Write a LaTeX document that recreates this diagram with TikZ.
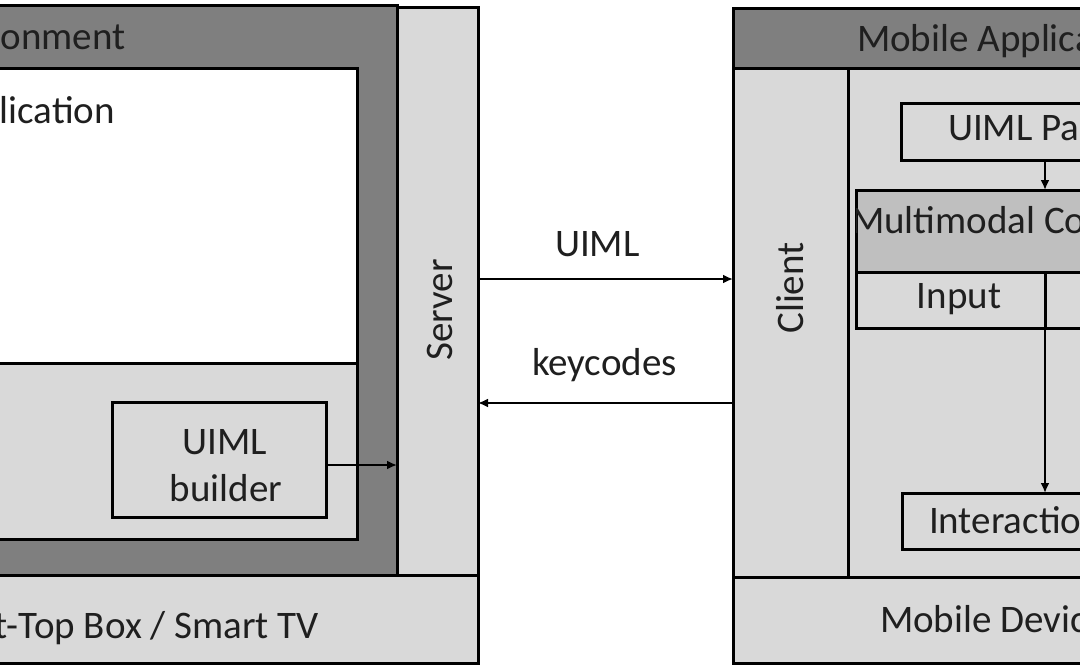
\documentclass[tikz,border=0pt]{standalone}
\usepackage{fontspec}
\setmainfont{Carlito}
\usetikzlibrary{arrows.meta}
\definecolor{dkgray}{HTML}{7F7F7F}
\definecolor{ltgray}{HTML}{D9D9D9}
\definecolor{mdgray}{HTML}{BFBFBF}
\begin{document}
\begin{tikzpicture}[x=1pt,y=-1pt,
  box/.style={draw=black, line width=3pt, rectangle, inner sep=0pt, outer sep=0pt, anchor=north west},
  lbl/.style={font=\fontsize{39}{47}\selectfont, inner sep=0pt, outer sep=0pt, text=black!88},
  arr/.style={line width=2.2pt, -{Latex[length=10pt,width=9pt]}}]
\useasboundingbox (0,0) rectangle (1080,670);
\fill[white] (0,0) rectangle (1080,670);
\clip (0,0) rectangle (1080,670);
% ---------------- left: set-top box ----------------
\node[box, fill=dkgray, minimum width=1000pt, minimum height=570pt] (env) at (-603,5) {};
\node[box, fill=white, minimum width=907pt, minimum height=295pt] (apptop) at (-550,68) {};
\node[box, fill=ltgray, minimum width=907pt, minimum height=176pt] (appbot) at (-550,363) {};
\node[box, fill=ltgray, minimum width=214pt, minimum height=115pt] (builder) at (112,402) {};
\node[box, fill=ltgray, minimum width=81pt, minimum height=568pt] (server) at (397,7) {};
\node[box, fill=ltgray, minimum width=1081pt, minimum height=88pt] (settop) at (-603,575) {};
\node[lbl, anchor=base east] (envt) at (125.5,49) {Environment};
\node[lbl, anchor=base east] (appt) at (115,123) {Application};
\node[lbl, anchor=base] (bt1) at (225,454) {UIML};
\node[lbl, anchor=base] (bt2) at (226,501) {builder};
\node[lbl, rotate=90] (servt) at (440,310) {Server};
\node[lbl, anchor=base east] (stbt) at (319,638) {Set-Top Box / Smart TV};
% ---------------- right: mobile device ----------------
\node[box, fill=ltgray, minimum width=650pt, minimum height=655pt] (mobile) at (733,8) {};
\node[box, fill=dkgray, minimum width=650pt, minimum height=60pt] (header) at (733,8) {};
\node[box, fill=ltgray, minimum width=115pt, minimum height=509pt] (client) at (733,68) {};
\node[box, fill=ltgray, minimum width=535pt, minimum height=509pt] (inner) at (848,68) {};
\node[box, fill=ltgray, minimum width=650pt, minimum height=86pt] (device) at (733,577) {};
\node[box, fill=ltgray, minimum width=288pt, minimum height=57pt] (parser) at (901,103) {};
\node[box, fill=mdgray, minimum width=378pt, minimum height=82pt] (multi) at (856,190) {};
\node[box, fill=ltgray, minimum width=189pt, minimum height=56pt] (input) at (856,272) {};
\node[box, fill=ltgray, minimum width=189pt, minimum height=56pt] (output) at (1045,272) {};
\node[box, fill=ltgray, minimum width=286pt, minimum height=56pt] (interaction) at (902,493) {};
\node[lbl, anchor=base west] (mobt) at (857,51) {Mobile Application};
\node[lbl, rotate=90] (clientt) at (790,288) {Client};
\node[lbl, anchor=base west] (parst) at (948,140) {UIML Parser};
\begin{scope}
  \clip (multi.north west) rectangle (multi.south east);
  \node[lbl, anchor=base west] (multt) at (851,233) {Multimodal Component};
\end{scope}
\node[lbl, anchor=base] (inpt) at (959,308) {Input};
\node[lbl, anchor=base west] (intt) at (929,533) {Interaction Manager};
\node[lbl, anchor=base west] (devt) at (880,632) {Mobile Device};
% ---------------- connectors ----------------
\coordinate (bl) at (0,465);
\coordinate (ua) at (0,279);
\coordinate (ka) at (0,403);
\draw[arr] (builder.east |- bl) -- (server.west |- bl);
\draw[arr] (server.east |- ua) -- (client.west |- ua);
\draw[arr] (client.west |- ka) -- (server.east |- ka);
\draw[arr] (parser.south) -- (multi.north);
\draw[arr] (input.south east) -- (interaction.north);
\node[lbl, anchor=base west] (uimlt) at (555,256) {UIML};
\node[lbl, anchor=base west] (keyt) at (532,375) {keycodes};
\end{tikzpicture}
\end{document}
